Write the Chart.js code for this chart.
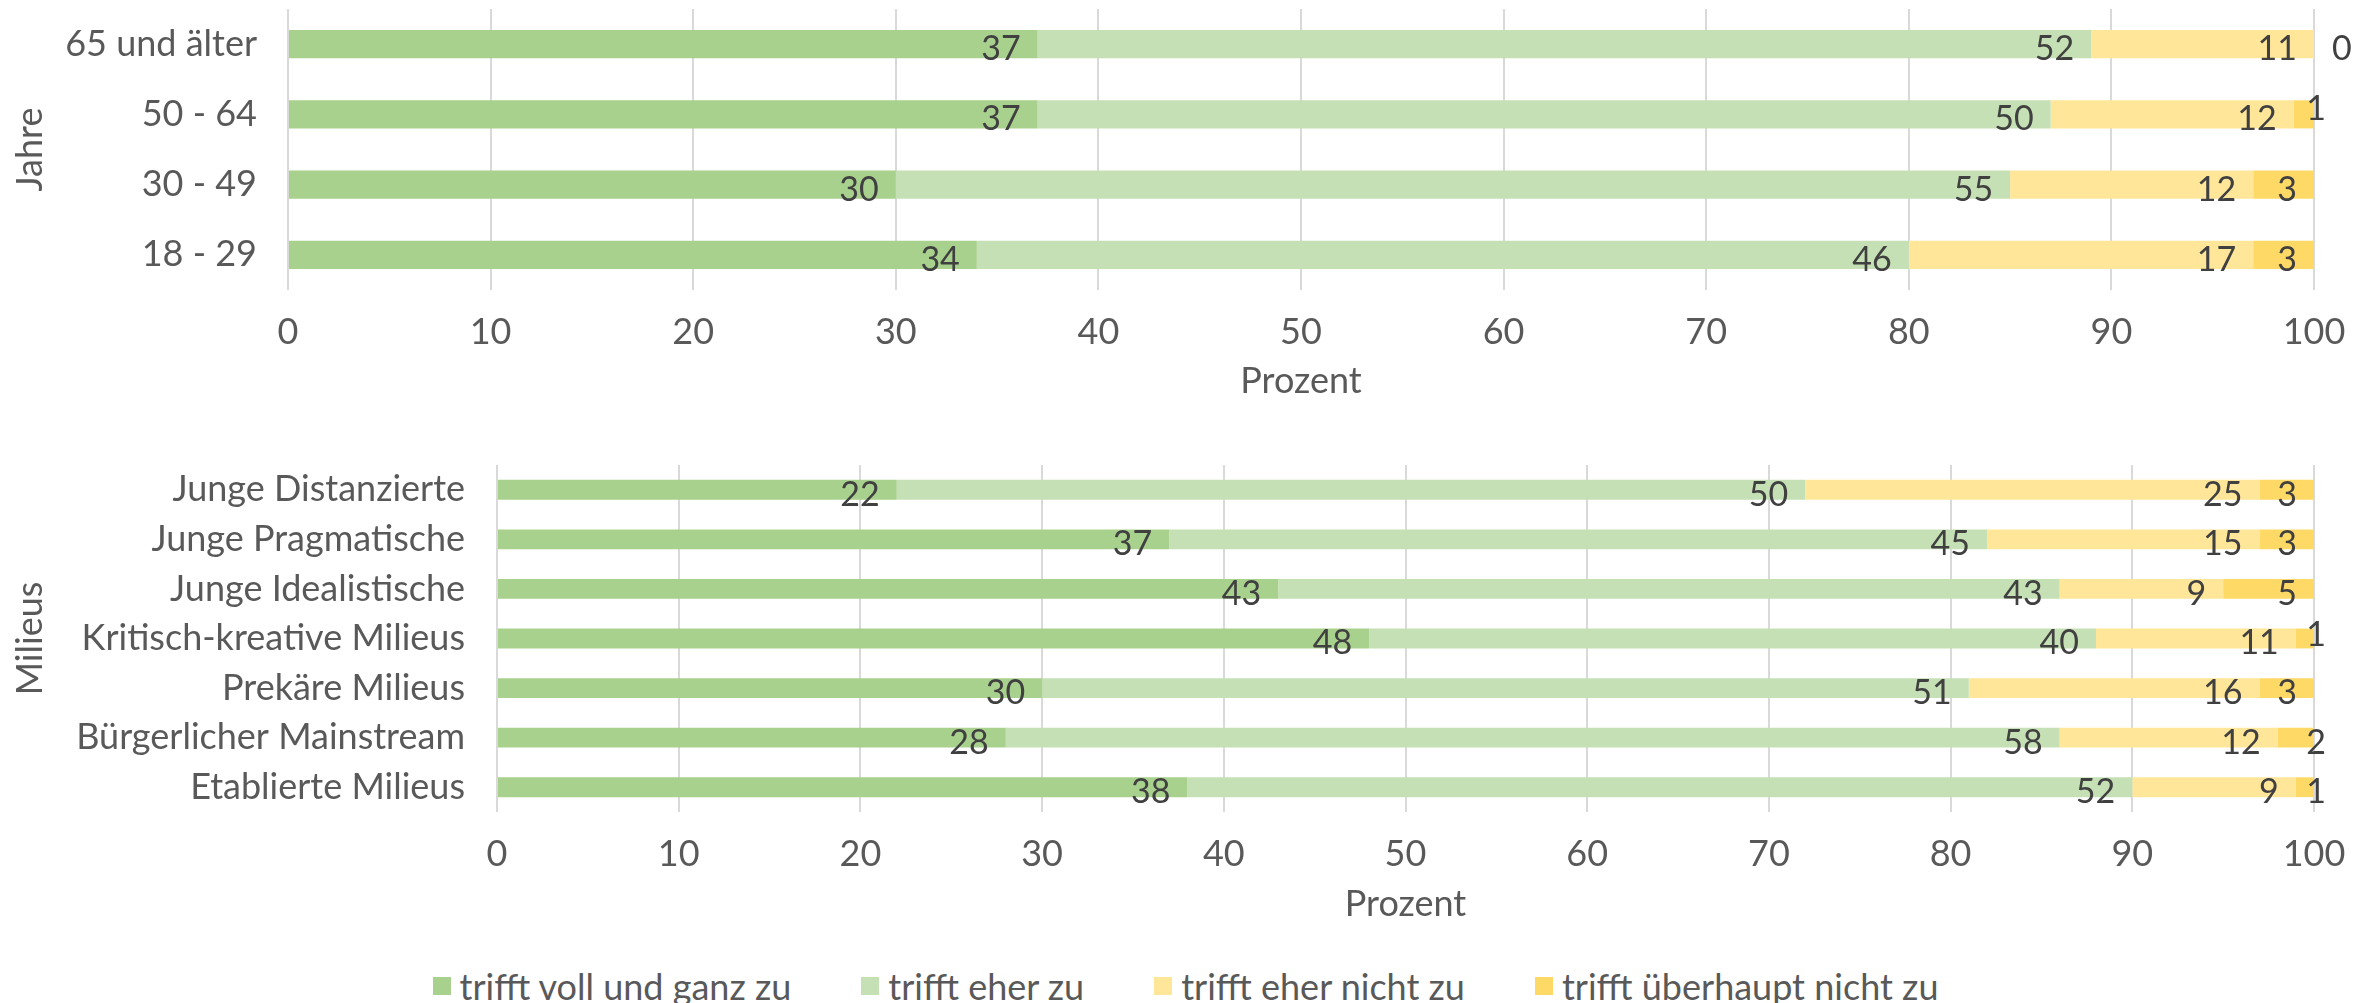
<!DOCTYPE html>
<html>
<head>
<meta charset="utf-8">
<script src="https://cdn.jsdelivr.net/npm/chart.js@4.4.1/dist/chart.umd.min.js"></script>
<style>
  body { margin: 0; background: #fff; width: 2371px; height: 1003px; position: relative; overflow: hidden; font-family: Lato, sans-serif; }
  #ageWrap { position: absolute; left: 0; top: 0; }
  #milieuWrap { position: absolute; left: 0; top: 440px; }
  #legend { position: absolute; left: 0; top: 964px; width: 2371px; display: flex; justify-content: center; gap: 70px; font-size: 36px; color: #595959; line-height: 44px; }
  .item { display: flex; align-items: center; }
  .swatch { width: 18px; height: 18px; margin-right: 9px; }
</style>
</head>
<body>
<div id="ageWrap"><canvas id="ageChart" width="2371" height="410"></canvas></div>
<div id="milieuWrap"><canvas id="milieuChart" width="2371" height="520"></canvas></div>
<div id="legend"></div>
<script>
const seriesNames = ['trifft voll und ganz zu', 'trifft eher zu', 'trifft eher nicht zu', 'trifft überhaupt nicht zu'];
const seriesColors = ['#a9d18e', '#c5e0b4', '#ffe699', '#ffd966'];

const ageGroups = ['65 und älter', '50 - 64', '30 - 49', '18 - 29'];
const ageVoll = [37, 37, 30, 34];
const ageEher = [52, 50, 55, 46];
const ageEherNicht = [11, 12, 12, 17];
const ageUeberhaupt = [0, 1, 3, 3];

const milieus = ['Junge Distanzierte', 'Junge Pragmatische', 'Junge Idealistische', 'Kritisch-kreative Milieus', 'Prekäre Milieus', 'Bürgerlicher Mainstream', 'Etablierte Milieus'];
const milieuVoll = [22, 37, 43, 48, 30, 28, 38];
const milieuEher = [50, 45, 43, 40, 51, 58, 52];
const milieuEherNicht = [25, 15, 9, 11, 16, 12, 9];
const milieuUeberhaupt = [3, 3, 5, 1, 3, 2, 1];

const FONT = 'Lato';
const TEXT_GREY = '#595959';
const AXIS_SIZE = 36;

// small labels that get pushed up so they don't collide with their neighbour
const liftedLabels = { '50 - 64': 10, 'Kritisch-kreative Milieus': 8 };

// value labels at the inside end of each segment
const segmentLabels = {
  id: 'segmentLabels',
  afterDatasetsDraw(chart) {
    const ctx = chart.ctx;
    ctx.save();
    ctx.font = '34px ' + FONT;
    ctx.fillStyle = '#404040';
    ctx.textBaseline = 'middle';
    chart.data.datasets.forEach((ds, i) => {
      chart.getDatasetMeta(i).data.forEach((bar, j) => {
        const v = ds.data[j];
        const text = String(v);
        const w = ctx.measureText(text).width;
        const { x, y, base } = bar.getProps(['x', 'y', 'base'], true);
        let tx, ty = y + 5;
        if (v === 0) {
          ctx.textAlign = 'left';
          tx = x + 18;
        } else if (x - base < w + 34) {
          ctx.textAlign = 'center';
          tx = x + 2;
          ty -= liftedLabels[chart.data.labels[j]] || 0;
        } else {
          ctx.textAlign = 'right';
          tx = x - 17;
        }
        ctx.fillText(text, tx, ty);
      });
    });
    ctx.restore();
  }
};

function buildChart(id, labels, series, o) {
  return new Chart(document.getElementById(id), {
    type: 'bar',
    data: {
      labels: labels,
      datasets: seriesNames.map((name, k) => ({
        label: name,
        data: series[k],
        backgroundColor: seriesColors[k],
        borderWidth: 0,
        barPercentage: 0.5,
        categoryPercentage: 0.8
      }))
    },
    options: {
      indexAxis: 'y',
      responsive: false,
      animation: false,
      devicePixelRatio: 1,
      layout: { padding: { top: o.top, right: 57, left: 0, bottom: 0 } },
      plugins: { legend: { display: false }, tooltip: { enabled: false } },
      scales: {
        x: {
          stacked: true,
          min: 0,
          max: 100,
          ticks: { stepSize: 10, color: TEXT_GREY, font: { family: FONT, size: AXIS_SIZE }, padding: 21, maxRotation: 0 },
          grid: { color: '#d9d9d9', lineWidth: 2, drawTicks: false },
          border: { display: false },
          title: { display: true, text: 'Prozent', color: TEXT_GREY, font: { family: FONT, size: AXIS_SIZE }, padding: { top: 0, bottom: o.titlePad } },
          afterFit(s) { s.height = o.xHeight; }
        },
        y: {
          stacked: true,
          ticks: { color: TEXT_GREY, font: { family: FONT, size: AXIS_SIZE }, padding: o.tickPad },
          grid: { display: false },
          border: { display: false },
          title: { display: true, text: o.yTitle, color: TEXT_GREY, font: { family: FONT, size: AXIS_SIZE }, padding: { top: 9, bottom: 0 } },
          afterFit(s) {
            s.width = o.left;
            // categories are offset, so no room is needed for half-labels above/below
            s.paddingTop = 0;
            s.paddingBottom = 0;
          }
        }
      }
    },
    plugins: [segmentLabels]
  });
}

buildChart('ageChart', ageGroups, [ageVoll, ageEher, ageEherNicht, ageUeberhaupt],
  { top: 9, xHeight: 120, titlePad: 7, left: 288, tickPad: 23, yTitle: 'Jahre' });

buildChart('milieuChart', milieus, [milieuVoll, milieuEher, milieuEherNicht, milieuUeberhaupt],
  { top: 25, xHeight: 148, titlePad: 34, left: 497, tickPad: 24, yTitle: 'Milieus' });

// shared legend under both charts
const legend = document.getElementById('legend');
seriesNames.forEach((name, k) => {
  const item = document.createElement('div');
  item.className = 'item';
  const sw = document.createElement('span');
  sw.className = 'swatch';
  sw.style.background = seriesColors[k];
  const txt = document.createElement('span');
  txt.textContent = name;
  item.appendChild(sw);
  item.appendChild(txt);
  legend.appendChild(item);
});
</script>
</body>
</html>
